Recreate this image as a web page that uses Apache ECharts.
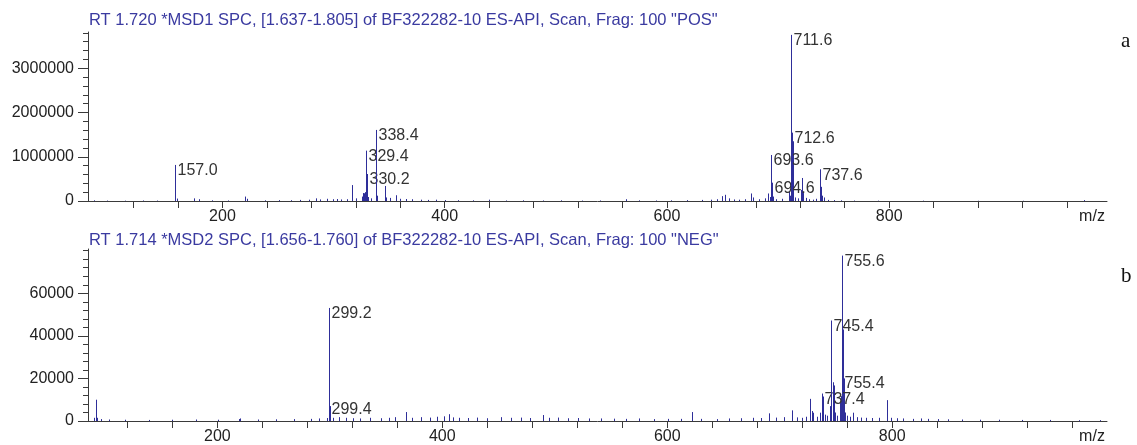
<!DOCTYPE html>
<html>
<head>
<meta charset="utf-8">
<title>ES-API spectra</title>
<script src="https://cdn.jsdelivr.net/npm/echarts@6.0.0/dist/echarts.min.js"></script>
<style>
  html, body { margin: 0; padding: 0; background: #fff; }
  #chart { width: 1137px; height: 445px; }
</style>
</head>
<body>
<div id="chart"></div>
<script>
"use strict";

// Panel a: positive scan, labelled peaks
const posLabelMz = [157.0, 329.4, 330.2, 338.4, 693.6, 694.6, 711.6, 712.6, 737.6];
const posLabelInt = [815000, 1138000, 610000, 1606000, 1040000, 414000, 3755000, 1545000, 717000];

// Panel a: unlabelled sticks (m/z, intensity)
const posMz = [
  84.1, 96.2, 112.0, 128.1, 141.0, 158.9, 174.4, 179.0, 190.2, 205.0, 220.3, 222.2,
  238.0, 251.1, 262.0, 270.2, 278.1, 284.0, 288.2, 294.3, 299.1, 303.2, 307.0, 312.1,
  317.0, 320.2, 325.3, 326.4, 327.4, 328.3, 331.2, 334.1, 339.4, 346.3, 347.3, 351.2,
  356.0, 360.1, 365.2, 371.0, 378.3, 385.1, 392.2, 400.1, 412.0, 425.3, 439.9, 455.2,
  470.1, 488.3, 505.0, 523.2, 540.1, 563.0, 575.2, 590.1, 604.0, 618.3, 631.2, 640.0,
  645.3, 649.4, 652.4, 656.0, 660.2, 665.1, 670.0, 675.5, 677.0, 683.2, 688.0, 690.5,
  692.4, 695.6, 698.0, 703.1, 709.4, 710.6, 713.4, 713.6, 715.2, 718.0, 720.5, 721.4,
  722.6, 725.0, 728.0, 731.2, 734.3, 738.5, 739.5, 741.0, 745.2, 750.1, 756.3, 768.0,
  790.2, 830.1, 880.0, 920.3, 975.6
];
const posInt = [
  15000, 10000, 8000, 12000, 10000, 55000, 60000, 40000, 15000, 12000, 100000, 50000,
  15000, 20000, 18000, 25000, 30000, 60000, 35000, 50000, 40000, 45000, 35000, 40000,
  360000, 60000, 100000, 180000, 175000, 200000, 90000, 60000, 120000, 340000, 80000, 70000,
  130000, 50000, 45000, 40000, 30000, 25000, 30000, 20000, 18000, 15000, 30000, 12000,
  15000, 12000, 15000, 10000, 12000, 40000, 15000, 12000, 15000, 20000, 25000, 30000,
  40000, 110000, 140000, 60000, 35000, 30000, 40000, 170000, 80000, 40000, 60000, 170000,
  90000, 100000, 40000, 50000, 210000, 120000, 1350000, 400000, 80000, 60000, 250000, 520000,
  180000, 70000, 40000, 30000, 50000, 320000, 120000, 80000, 25000, 20000, 15000, 10000,
  8000, 8000, 6000, 6000, 20000
];

// Panel b: negative scan, labelled peaks
const negLabelMz = [299.2, 299.4, 737.4, 745.4, 755.4, 755.6];
const negLabelInt = [53100, 8300, 12900, 47200, 20400, 77700];

// Panel b: unlabelled sticks
const negMz = [
  90.5, 92.2, 93.1, 97.0, 104.0, 118.2, 139.0, 160.1, 181.3, 201.0, 219.3, 220.4,
  236.1, 252.2, 268.0, 283.1, 290.2, 297.5, 298.9, 299.9, 303.2, 308.0, 314.1, 321.0,
  327.2, 336.0, 345.1, 352.3, 358.0, 367.7, 373.1, 381.2, 389.0, 395.1, 401.2, 406.0,
  409.1, 415.3, 423.0, 431.2, 440.1, 452.0, 461.2, 470.0, 478.3, 489.8, 495.1, 503.2,
  512.0, 521.1, 530.2, 541.0, 552.3, 563.1, 575.0, 588.2, 601.0, 612.3, 621.9, 630.0,
  644.2, 655.1, 666.0, 676.2, 683.0, 690.7, 697.1, 704.0, 710.8, 715.2, 719.7, 723.3,
  726.5, 728.6, 730.0, 733.1, 736.0, 738.2, 740.0, 742.1, 744.3, 747.3, 747.9, 749.5,
  751.0, 753.8, 754.7, 756.3, 756.8, 758.2, 760.0, 762.1, 765.6, 768.3, 772.0, 777.1,
  782.3, 788.0, 795.3, 799.2, 804.1, 810.0, 818.2, 826.0, 832.1, 840.3, 850.0, 862.2,
  878.1, 895.0, 915.3, 940.2, 966.0, 985.1
];
const negInt = [
  1500, 10000, 1500, 900, 700, 600, 500, 600, 700, 600, 900, 1200,
  700, 800, 900, 1000, 1200, 1400, 2200, 7000, 1500, 1800, 1500, 1300,
  1200, 1500, 1300, 1500, 1800, 4200, 1500, 1800, 1600, 2000, 2200, 3200,
  1700, 1500, 1400, 1600, 1300, 1800, 1500, 1600, 1400, 2800, 1500, 1600,
  1300, 1400, 1200, 1200, 1100, 1000, 1200, 900, 1000, 1000, 4200, 1000,
  900, 1200, 1300, 1500, 1400, 3600, 1600, 1800, 5000, 1700, 1500, 2000,
  10400, 4700, 3900, 2000, 3900, 11500, 3000, 2500, 7000, 18200, 16700, 4000,
  2500, 8600, 11700, 43000, 20000, 4000, 2500, 2000, 3900, 1800, 1600, 1500,
  1400, 1500, 9800, 1500, 1300, 1200, 1000, 1200, 1000, 900, 800, 700,
  600, 600, 500, 500, 400, 400
];

// Axis ticks and labels
const xTicks = [120, 160, 200, 240, 280, 320, 360, 400, 440, 480, 520, 560,
  600, 640, 680, 720, 760, 800, 840, 880, 920, 960];
const xLabels = [200, 400, 600, 800];
const posYLabels = [0, 1000000, 2000000, 3000000];
const posYTicks = [0, 200000, 400000, 600000, 800000, 1000000, 1200000, 1400000, 1600000,
  1800000, 2000000, 2200000, 2400000, 2600000, 2800000, 3000000, 3200000, 3400000,
  3600000, 3800000];
const negYLabels = [0, 20000, 40000, 60000];
const negYTicks = [0, 4000, 8000, 12000, 16000, 20000, 24000, 28000, 32000, 36000, 40000,
  44000, 48000, 52000, 56000, 60000, 64000, 68000, 72000, 76000, 80000];

const posTitle = 'RT 1.720 *MSD1 SPC, [1.637-1.805] of BF322282-10 ES-API, Scan, Frag: 100 "POS"';
const negTitle = 'RT 1.714 *MSD2 SPC, [1.656-1.760] of BF322282-10 ES-API, Scan, Frag: 100 "NEG"';

const FONT = '"Liberation Sans", Arial, sans-serif';
const STICK = "#2e2e99";
const AXIS = "#3a3a3a";
const TITLE_COLOR = "#3a3aa0";

function pairs(xs, ys) {
  return xs.map((x, i) => [x, ys[i]]);
}

// one vertical stick per peak, optional m/z label at its top
function stickRenderer(labelled) {
  return function (params, api) {
    const mz = api.value(0);
    const top = api.coord([mz, api.value(1)]);
    const base = api.coord([mz, 0]);
    const x = Math.round(top[0]) + 0.5;
    const children = [{
      type: "line",
      shape: { x1: x, y1: base[1], x2: x, y2: top[1] },
      style: { stroke: STICK, lineWidth: 1 },
    }];
    if (labelled) {
      children.push({
        type: "text",
        x: x + 2,
        y: top[1] - 2,
        style: {
          text: mz.toFixed(1),
          fill: "#333",
          font: "16px " + FONT,
          align: "left",
          verticalAlign: "top",
        },
      });
    }
    return { type: "group", children: children };
  };
}

function xAxisFor(gridIndex, min, max) {
  return {
    type: "value",
    gridIndex: gridIndex,
    min: min,
    max: max,
    name: "m/z",
    nameLocation: "end",
    nameGap: -15,
    nameTextStyle: { color: "#222", fontSize: 16, fontFamily: FONT, align: "center", verticalAlign: "top", padding: [8, 0, 0, 0] },
    axisLine: { lineStyle: { color: AXIS, width: 1 } },
    axisTick: { customValues: xTicks, length: 7, lineStyle: { color: AXIS } },
    axisLabel: { customValues: xLabels, color: "#222", fontSize: 16, fontFamily: FONT, margin: 8 },
    splitLine: { show: false },
  };
}

function yAxesFor(gridIndex, max, ticks, labels) {
  return [
    {
      type: "value",
      gridIndex: gridIndex,
      min: 0,
      max: max,
      axisLine: { show: true, lineStyle: { color: AXIS } },
      axisTick: { customValues: ticks, length: 5, lineStyle: { color: AXIS } },
      axisLabel: { show: false },
      splitLine: { show: false },
    },
    {
      type: "value",
      gridIndex: gridIndex,
      position: "left",
      min: 0,
      max: max,
      axisLine: { show: false },
      axisTick: { customValues: labels, length: 10, lineStyle: { color: AXIS } },
      axisLabel: {
        customValues: labels,
        formatter: (v) => String(v),
        color: "#222",
        fontSize: 16,
        fontFamily: FONT,
        margin: 14,
      },
      splitLine: { show: false },
    },
  ];
}

const chart = echarts.init(document.getElementById("chart"), null, { renderer: "canvas" });

chart.setOption({
  animation: false,
  backgroundColor: "#fff",
  title: [
    { text: posTitle, left: 89, top: 12, padding: 0, textStyle: { color: TITLE_COLOR, fontSize: 16.5, fontWeight: "normal", fontFamily: FONT } },
    { text: negTitle, left: 89, top: 232, padding: 0, textStyle: { color: TITLE_COLOR, fontSize: 16.5, fontWeight: "normal", fontFamily: FONT } },
    { text: "a", left: 1121, top: 31, padding: 0, textStyle: { color: "#111", fontSize: 21, fontWeight: "normal", fontFamily: '"Liberation Serif", serif' } },
    { text: "b", left: 1121, top: 266, padding: 0, textStyle: { color: "#111", fontSize: 21, fontWeight: "normal", fontFamily: '"Liberation Serif", serif' } },
  ],
  grid: [
    { left: 88, top: 32, width: 1019, height: 169 },
    { left: 88, top: 249, width: 1019, height: 173 },
  ],
  xAxis: [xAxisFor(0, 79, 996), xAxisFor(1, 85, 991)],
  yAxis: yAxesFor(0, 3820000, posYTicks, posYLabels).concat(
    yAxesFor(1, 80800, negYTicks, negYLabels)
  ),
  series: [
    { type: "custom", xAxisIndex: 0, yAxisIndex: 0, renderItem: stickRenderer(false), data: pairs(posMz, posInt), clip: true },
    { type: "custom", xAxisIndex: 0, yAxisIndex: 0, renderItem: stickRenderer(true), data: pairs(posLabelMz, posLabelInt) },
    { type: "custom", xAxisIndex: 1, yAxisIndex: 2, renderItem: stickRenderer(false), data: pairs(negMz, negInt), clip: true },
    { type: "custom", xAxisIndex: 1, yAxisIndex: 2, renderItem: stickRenderer(true), data: pairs(negLabelMz, negLabelInt) },
  ],
});
</script>
</body>
</html>
